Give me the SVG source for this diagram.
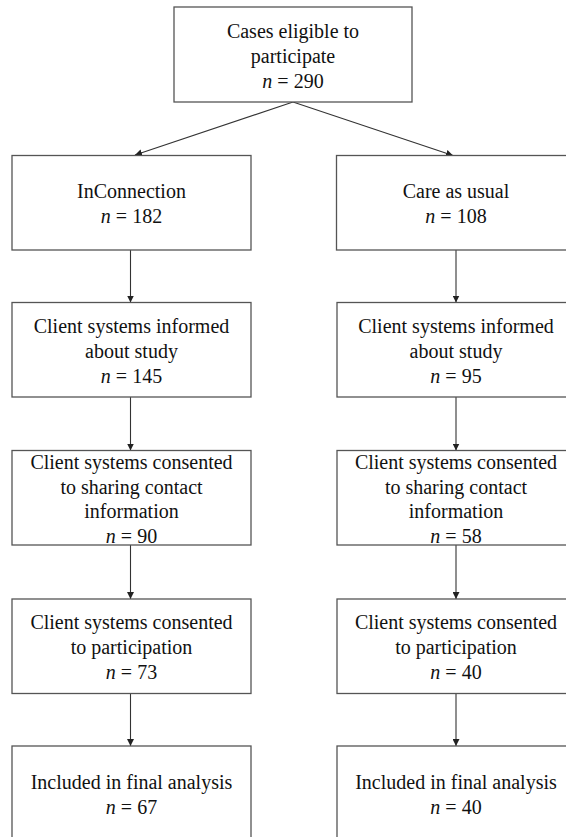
<svg xmlns="http://www.w3.org/2000/svg" width="566" height="837" viewBox="0 0 566 837">
<defs>
<marker id="ah" viewBox="0 0 8 8" refX="8" refY="4" markerWidth="7" markerHeight="7" markerUnits="userSpaceOnUse" orient="auto">
<path d="M0,0 L8,4 L0,8 Z" fill="#222"/>
</marker>
</defs>
<style>
.box{fill:#fff;stroke:#555;stroke-width:1.3}
text{font-family:'Times New Roman','Liberation Serif','DejaVu Serif',serif;font-size:20px;fill:#111;text-anchor:middle}
.i{font-style:italic}
.c{stroke:#333;stroke-width:1.1;fill:none;marker-end:url(#ah)}
</style>
<rect width="566" height="837" fill="#fff"/>
<g id="connectors">
<line class="c" x1="293" y1="102" x2="135" y2="155"/>
<line class="c" x1="293" y1="102" x2="453" y2="155.5"/>
<line class="c" x1="130.5" y1="250" x2="130.5" y2="302.5"/>
<line class="c" x1="130.5" y1="397" x2="130.5" y2="450.5"/>
<line class="c" x1="130.5" y1="545" x2="130.5" y2="599"/>
<line class="c" x1="130.5" y1="693" x2="130.5" y2="746"/>
<line class="c" x1="456" y1="250" x2="456" y2="302.5"/>
<line class="c" x1="456" y1="397" x2="456" y2="450.5"/>
<line class="c" x1="456" y1="545" x2="456" y2="599"/>
<line class="c" x1="456" y1="693" x2="456" y2="746"/>
</g>
<g id="eligible">
<rect class="box" x="174" y="7" width="238" height="95"/>
<text x="293" y="37.5">Cases eligible to</text>
<text x="293" y="62.5">participate</text>
<text x="293" y="87.5"><tspan class="i">n</tspan> = 290</text>
</g>
<g id="inconnection">
<rect class="box" x="12" y="155.5" width="239" height="94.5"/>
<text x="131.5" y="197.5">InConnection</text>
<text x="131.5" y="222.5"><tspan class="i">n</tspan> = 182</text>
</g>
<g id="care-as-usual">
<rect class="box" x="336.5" y="155.5" width="239" height="94.5"/>
<text x="456" y="197.5">Care as usual</text>
<text x="456" y="222.5"><tspan class="i">n</tspan> = 108</text>
</g>
<g id="ic-informed">
<rect class="box" x="12" y="302.5" width="239" height="94.5"/>
<text x="131.5" y="332.5">Client systems informed</text>
<text x="131.5" y="357.5">about study</text>
<text x="131.5" y="382.5"><tspan class="i">n</tspan> = 145</text>
</g>
<g id="cau-informed">
<rect class="box" x="337" y="302.5" width="239" height="94.5"/>
<text x="456" y="332.5">Client systems informed</text>
<text x="456" y="357.5">about study</text>
<text x="456" y="382.5"><tspan class="i">n</tspan> = 95</text>
</g>
<g id="ic-contact">
<rect class="box" x="12" y="450.5" width="239" height="94.5"/>
<text x="131.5" y="468.5">Client systems consented</text>
<text x="131.5" y="493.5">to sharing contact</text>
<text x="131.5" y="518">information</text>
<text x="131.5" y="542.5"><tspan class="i">n</tspan> = 90</text>
</g>
<g id="cau-contact">
<rect class="box" x="337" y="450.5" width="239" height="94.5"/>
<text x="456" y="468.5">Client systems consented</text>
<text x="456" y="493.5">to sharing contact</text>
<text x="456" y="518">information</text>
<text x="456" y="542.5"><tspan class="i">n</tspan> = 58</text>
</g>
<g id="ic-participation">
<rect class="box" x="12" y="599" width="239" height="94.5"/>
<text x="131.5" y="628.5">Client systems consented</text>
<text x="131.5" y="653.5">to participation</text>
<text x="131.5" y="678.5"><tspan class="i">n</tspan> = 73</text>
</g>
<g id="cau-participation">
<rect class="box" x="337" y="599" width="239" height="94.5"/>
<text x="456" y="628.5">Client systems consented</text>
<text x="456" y="653.5">to participation</text>
<text x="456" y="678.5"><tspan class="i">n</tspan> = 40</text>
</g>
<g id="ic-final">
<rect class="box" x="12" y="746" width="239" height="100"/>
<text x="131.5" y="788.5">Included in final analysis</text>
<text x="131.5" y="813.5"><tspan class="i">n</tspan> = 67</text>
</g>
<g id="cau-final">
<rect class="box" x="337" y="746" width="239" height="100"/>
<text x="456" y="788.5">Included in final analysis</text>
<text x="456" y="813.5"><tspan class="i">n</tspan> = 40</text>
</g>
</svg>
